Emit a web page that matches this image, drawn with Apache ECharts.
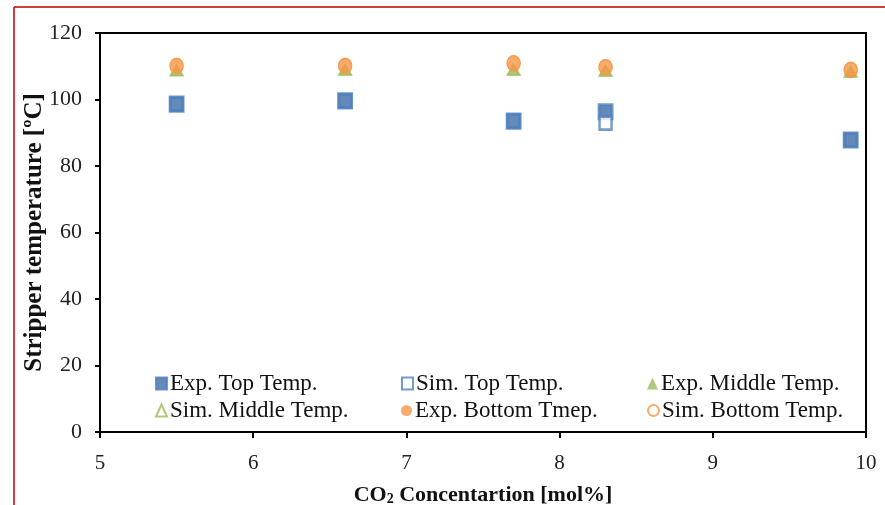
<!DOCTYPE html>
<html>
<head>
<meta charset="utf-8">
<script src="https://cdn.jsdelivr.net/npm/echarts@6/dist/echarts.min.js"></script>
<style>html,body{margin:0;padding:0;background:#fff}#c{width:885px;height:505px}</style>
</head>
<body>
<div id="c"></div>
<script>
const xValues = [5.5, 6.6, 7.7, 8.3, 9.9];
const expTop = [98.6, 99.6, 93.5, 96.3, 87.8];
const simTop = [98.6, 99.6, 93.5, 92.9, 87.8];
const expMiddle = [108.7, 108.9, 108.9, 108.6, 108.3];
const simMiddle = [108.7, 108.9, 108.9, 108.6, 108.3];
const expBottom = [110.1, 110.1, 110.9, 109.7, 108.9];
const simBottom = [110.1, 110.1, 110.9, 109.7, 108.9];
const seriesNames = ['Exp. Top Temp.', 'Sim. Top Temp.', 'Exp. Middle Temp.', 'Sim. Middle Temp.', 'Exp. Bottom Tmep.', 'Sim. Bottom Temp.'];
const yTitle = 'Stripper temperature [ºC]';

const BLUE = '#4F81BD', BLUE_D = '#3E6BA8', GREEN = '#9BBB59', ORANGE = '#F79646';
const FONT = '"Liberation Serif", "Times New Roman", serif';
const pts = arr => xValues.map((x, i) => [x, arr[i]]);

const chart = echarts.init(document.getElementById('c'), null, {renderer: 'canvas'});

const legendPos = [
  {left: 155, top: 372}, {left: 401, top: 372}, {left: 647, top: 372},
  {left: 155, top: 399}, {left: 401, top: 399}, {left: 647, top: 399}
];
const legendIcons = ['rect', 'rect', 'triangle', 'triangle', 'circle', 'circle'];
const legends = seriesNames.map((n, i) => ({
  data: [{name: n, icon: legendIcons[i]}],
  left: legendPos[i].left, top: legendPos[i].top,
  itemWidth: 11, itemHeight: 12, itemGap: 0,
  padding: 0,
  textStyle: {fontFamily: FONT, fontSize: 23, color: '#111', padding: [0, 0, 0, -2]},
  selectedMode: false
}));

const option = {
  backgroundColor: '#fff',
  animation: false,
  grid: {left: 100, right: 19, top: 33, bottom: 73, outerBoundsMode: 'none', containLabel: false,
         show: true, borderColor: '#000', borderWidth: 2, backgroundColor: 'transparent'},
  legend: legends,
  xAxis: {
    type: 'value', min: 5, max: 10, interval: 1,
    axisLine: {show: true, onZero: false, lineStyle: {color: '#000', width: 2}},
    axisTick: {show: true, inside: false, length: 6, lineStyle: {color: '#000', width: 2}},
    splitLine: {show: false},
    axisLabel: {fontFamily: FONT, fontSize: 21, color: '#222', margin: 21},
    name: '{a|CO}{s|2}{a| Concentartion [mol%]}',
    nameLocation: 'middle', nameGap: 52, nameMoveOverlap: false,
    nameTextStyle: {
      rich: {
        a: {fontFamily: FONT, fontSize: 22, fontWeight: 'bold', color: '#111'},
        s: {fontFamily: FONT, fontSize: 14, fontWeight: 'bold', color: '#111', verticalAlign: 'bottom', padding: [8, 0, 0, 0]}
      }
    }
  },
  yAxis: {
    type: 'value', min: 0, max: 120, interval: 20,
    axisLine: {show: true, lineStyle: {color: '#000', width: 2}},
    axisTick: {show: true, inside: false, length: 5, lineStyle: {color: '#000', width: 2}},
    splitLine: {show: false},
    axisLabel: {fontFamily: FONT, fontSize: 22, color: '#222', margin: 18},
    name: yTitle, nameLocation: 'middle', nameGap: 53, nameMoveOverlap: false,
    nameTextStyle: {fontFamily: FONT, fontSize: 25, fontWeight: 'bold', color: '#111'}
  },
  graphic: [
    {type: 'line', shape: {x1: 14, y1: 7, x2: 885, y2: 7}, style: {stroke: '#C00000', lineWidth: 1.5}, silent: true},
    {type: 'line', shape: {x1: 14, y1: 7, x2: 14, y2: 505}, style: {stroke: '#C00000', lineWidth: 1.5}, silent: true}
  ],
  series: [
    {name: seriesNames[0], type: 'scatter', data: pts(expTop), symbol: 'rect', symbolSize: [13, 14],
     itemStyle: {color: BLUE_D, borderColor: BLUE, borderWidth: 3}, z: 2},
    {name: seriesNames[1], type: 'scatter', symbol: 'rect', symbolSize: [12, 13],
     data: pts(simTop).map((p, i) => ({
       value: p,
       itemStyle: Math.abs(simTop[i] - expTop[i]) < 0.5 ? {color: 'transparent'} : {color: '#fff'}
     })),
     itemStyle: {color: '#fff', borderColor: BLUE, borderWidth: 2.5}, z: 3},
    {name: seriesNames[2], type: 'scatter', data: pts(expMiddle), symbol: 'triangle', symbolSize: [13, 11],
     itemStyle: {color: GREEN}, z: 4},
    {name: seriesNames[3], type: 'scatter', data: pts(simMiddle), symbol: 'triangle', symbolSize: [12, 10],
     itemStyle: {color: 'transparent', borderColor: GREEN, borderWidth: 2}, z: 5},
    {name: seriesNames[4], type: 'scatter', data: pts(expBottom), symbol: 'circle', symbolSize: [14, 16],
     itemStyle: {color: ORANGE}, z: 6},
    {name: seriesNames[5], type: 'scatter', data: pts(simBottom), symbol: 'circle', symbolSize: [13, 15],
     itemStyle: {color: 'transparent', borderColor: ORANGE, borderWidth: 1.5}, z: 7}
  ]
};
chart.setOption(option);
</script>
</body>
</html>
